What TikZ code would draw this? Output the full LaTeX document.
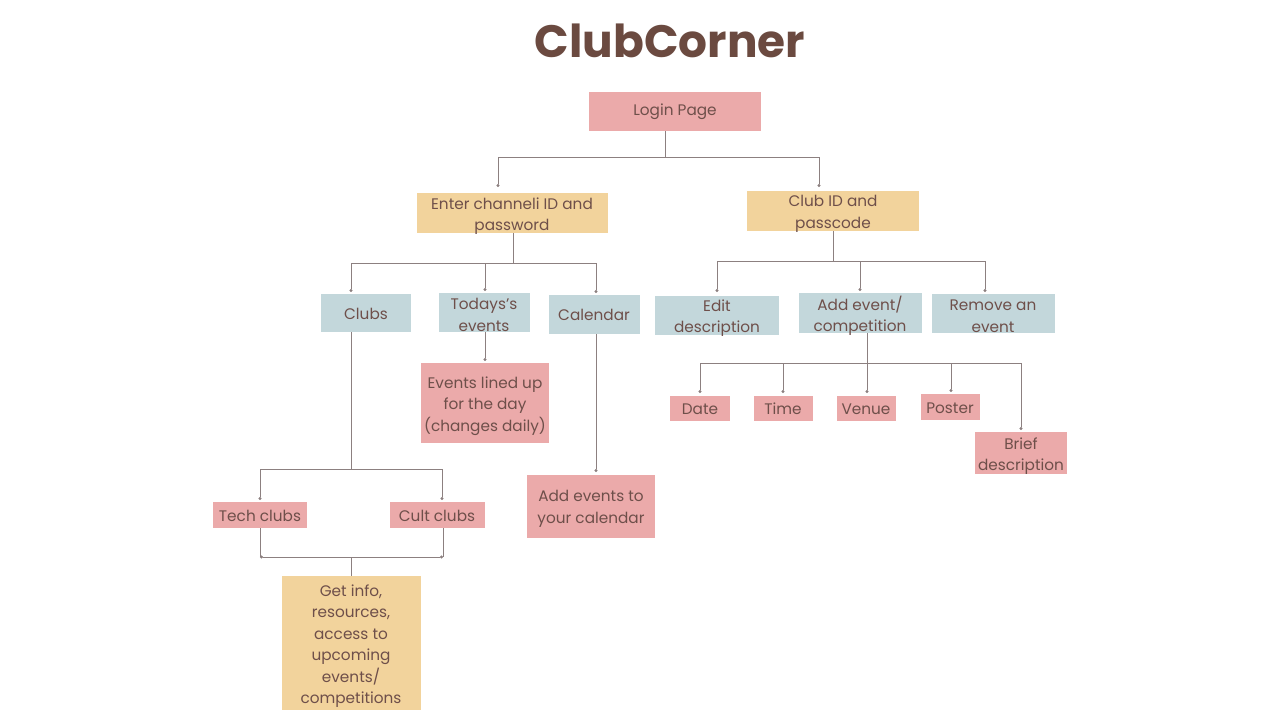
\documentclass[tikz,border=0pt]{standalone}
\usepackage{fontspec}
\setmainfont{Poppins}
\usetikzlibrary{arrows.meta}
\definecolor{pinkc}{HTML}{EBAAAA}
\definecolor{yellowc}{HTML}{F2D39C}
\definecolor{bluec}{HTML}{C3D7DB}
\definecolor{txtc}{HTML}{6E4F4A}
\definecolor{titlec}{HTML}{6B4A40}
\definecolor{linec}{HTML}{8C8080}
\tikzset{
  box/.style={inner sep=0pt},
  lbl/.style={inner sep=0pt, align=center, text=txtc, font=\fontsize{15.3}{21.5}\selectfont},
  one/.style={label={[lbl,yshift=-1pt]center:{#1}}},
  two/.style={label={[lbl,yshift=-3pt]center:{#1}}},
  pinkbox/.style={box, fill=pinkc},
  yellowbox/.style={box, fill=yellowc},
  bluebox/.style={box, fill=bluec},
  conn/.style={draw=linec, line width=0.9pt},
  dotarrow/.style={conn, -{Circle[length=3pt]}},
  dotboth/.style={conn, {Circle[length=3pt]}-{Circle[length=3pt]}},
}
\begin{document}
\begin{tikzpicture}[x=1pt,y=-1pt]
\useasboundingbox (0,0) rectangle (1280,720);
\fill[white] (0,0) rectangle (1280,720);
\node[text=titlec, font=\fontsize{45.4}{52}\selectfont\bfseries] (title) at (670,41) {ClubCorner};

\node[pinkbox, minimum width=172pt, minimum height=39pt, one={Login Page}] (login) at (675,111) {};
\node[yellowbox, minimum width=191pt, minimum height=40pt, two={Enter channeli ID and\\password}] (enter) at (512,213) {};
\node[yellowbox, minimum width=172pt, minimum height=40pt, two={Club ID and\\passcode}] (club) at (833,211) {};

\node[bluebox, minimum width=90pt, minimum height=38pt, one={Clubs}] (clubs) at (366,313) {};
\node[bluebox, minimum width=91pt, minimum height=39pt, two={Todays's\\events}] (today) at (484,312) {};
\node[bluebox, minimum width=91pt, minimum height=39pt, one={Calendar}] (cal) at (594,314) {};
\node[bluebox, minimum width=124pt, minimum height=39pt, two={Edit\\description}] (edit) at (717,315) {};
\node[bluebox, minimum width=123pt, minimum height=40pt, two={Add event/\\competition}] (add) at (860,313) {};
\node[bluebox, minimum width=123pt, minimum height=39pt, two={Remove an\\event}] (remove) at (993,313) {};

\node[pinkbox, minimum width=128pt, minimum height=80pt, two={Events lined up\\for the day\\(changes daily)}] (lined) at (485,403) {};
\node[pinkbox, minimum width=60pt, minimum height=25pt, one={Date}] (date) at (700,408) {};
\node[pinkbox, minimum width=59pt, minimum height=25pt, one={Time}] (time) at (783,408) {};
\node[pinkbox, minimum width=59pt, minimum height=25pt, one={Venue}] (venue) at (866,408) {};
\node[pinkbox, minimum width=59pt, minimum height=26pt, one={Poster}] (poster) at (950,407) {};
\node[pinkbox, minimum width=92pt, minimum height=42pt, two={Brief\\description}] (brief) at (1021,453) {};

\node[pinkbox, minimum width=94pt, minimum height=26pt, one={Tech clubs}] (tech) at (260,515) {};
\node[pinkbox, minimum width=95pt, minimum height=26pt, one={Cult clubs}] (cult) at (437,515) {};
\node[pinkbox, minimum width=128pt, minimum height=63pt, two={Add events to\\your calendar}] (addcal) at (591,506) {};
\node[yellowbox, minimum width=139pt, minimum height=134pt, two={Get info,\\resources,\\access to\\upcoming\\events/\\competitions}] (info) at (351,643) {};

% Login -> branches
\coordinate (l1) at (665,157);
\draw[conn] (665,131) -- (l1);
\draw[dotarrow] (l1) -| (498,187);
\draw[dotarrow] (l1) -| (819,187);

% Enter -> clubs/today/cal
\coordinate (e1) at (513,263);
\draw[conn] (513,233) -- (e1);
\draw[dotarrow] (e1) -| (351,292);
\draw[dotarrow] (e1) -| (485,291);
\draw[dotarrow] (e1) -| (596,293);

% Club ID -> edit/add/remove
\coordinate (c1) at (833,261);
\draw[conn] (833,231) -- (c1);
\draw[dotarrow] (c1) -| (717,292);
\draw[dotarrow] (c1) -| (860,291);
\draw[dotarrow] (c1) -| (985,292);

% Today -> lined
\draw[dotarrow] (485,332) -- (485,361);

% Calendar -> add to calendar
\draw[dotarrow] (596,334) -- (596,472);

% Clubs -> tech/cult
\coordinate (k1) at (351,469);
\draw[conn] (351,332) -- (k1);
\draw[dotarrow] (k1) -| (260,500);
\draw[dotarrow] (k1) -| (442,500);

% Tech/cult -> info
\draw[conn] (260,528) -- (260,557);
\draw[conn] (443,528) -- (443,557);
\draw[dotboth] (260,557) -- (443,557);
\draw[conn] (351,557) -- (351,576);

% Add event -> details
\coordinate (a1) at (867,363);
\draw[conn] (867,333) -- (a1);
\draw[dotarrow] (a1) -| (700,393);
\draw[dotarrow] (a1) -| (783,393);
\draw[dotarrow] (a1) -- (867,393);
\draw[dotarrow] (a1) -| (951,392);
\draw[dotarrow] (a1) -| (1021,430);
\end{tikzpicture}
\end{document}
